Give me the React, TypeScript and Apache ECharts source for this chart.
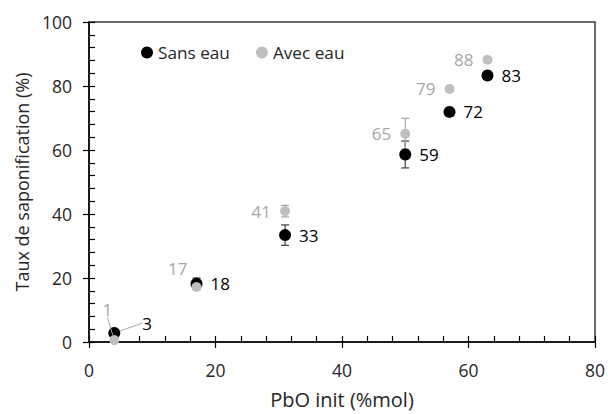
import React, { useEffect, useRef } from "react";
import * as echarts from "echarts";

const xValues = [4, 17, 31, 50, 57, 63];
const sansEau = [2.8, 18.2, 33.4, 58.6, 71.9, 83.3];
const avecEau = [0.6, 17.2, 40.9, 65.1, 79.1, 88.2];
const sansEauErr = [0, 1.8, 3.2, 4.2, 0, 0];
const avecEauErr = [0, 0, 1.8, 4.8, 0, 0];
const seriesNames = ["Sans eau", "Avec eau"];
const xTicks = { min: 0, max: 80, interval: 20 };
const yTicks = { min: 0, max: 100, interval: 20 };

const FONT = "Open Sans";
const TXT = "#262626";
const BLACK = "#000000";
const GREY = "#BFBFBF";
const GREY_TXT = "#A6A6A6";

function errorBarSeries(values: number[], errs: number[], color: string) {
  const data = xValues.map((x, i) => [x, values[i], errs[i]]).filter((d) => d[2] > 0);
  return {
    type: "custom",
    silent: true,
    data,
    z: 1,
    renderItem: (_p: any, api: any) => {
      const x = api.value(0);
      const y = api.value(1);
      const e = api.value(2);
      const top = api.coord([x, y + e]);
      const bot = api.coord([x, y - e]);
      const w = 4;
      const style = { stroke: color, lineWidth: 1.2 };
      return {
        type: "group",
        children: [
          { type: "line", shape: { x1: top[0], y1: top[1], x2: bot[0], y2: bot[1] }, style },
          { type: "line", shape: { x1: top[0] - w, y1: top[1], x2: top[0] + w, y2: top[1] }, style },
          { type: "line", shape: { x1: bot[0] - w, y1: bot[1], x2: bot[0] + w, y2: bot[1] }, style },
        ],
      };
    },
  };
}

function pointData(values: number[]) {
  return xValues.map((x, i) => ({
    value: [x, values[i]],
    labelLine: { show: i === 0 },
  }));
}

export default function App() {
  const ref = useRef<HTMLDivElement>(null);
  useEffect(() => {
    document.body.style.margin = "0";
    const chart = echarts.init(ref.current!, null, { renderer: "svg" });
    const axisCommon = {
      type: "value",
      splitLine: { show: false },
    };
    const tickStyle = { color: BLACK, width: 1.2 };
    chart.setOption({
      animation: false,
      textStyle: { fontFamily: FONT },
      grid: {
        left: 89,
        right: 12,
        top: 22,
        bottom: 69,
        show: true,
        borderColor: "#3a3a3a",
        borderWidth: 1.5,
      },
      legend: {
        data: seriesNames,
        left: 136,
        top: 39,
        icon: "circle",
        itemWidth: 12,
        itemHeight: 12,
        itemGap: 26,
        textStyle: { fontFamily: FONT, fontSize: 17.2, color: TXT },
      },
      xAxis: [
        {
          ...axisCommon,
          ...xTicks,
          name: "PbO init (%mol)",
          nameLocation: "middle",
          nameGap: 47,
          nameTextStyle: { fontFamily: FONT, fontSize: 20, color: TXT },
          axisLine: { show: true, onZero: false, lineStyle: { color: BLACK, width: 1.5 } },
          axisTick: { show: true, inside: false, length: 6, lineStyle: tickStyle },
          axisLabel: { margin: 19, fontFamily: FONT, fontSize: 17.5, color: TXT },
        },
        {
          ...axisCommon,
          min: xTicks.min,
          max: xTicks.max,
          interval: 4,
          position: "bottom",
          axisLine: { show: false },
          axisTick: { show: true, inside: true, length: 6, lineStyle: tickStyle },
          axisLabel: { show: false },
        },
      ],
      yAxis: [
        {
          ...axisCommon,
          ...yTicks,
          name: "Taux de saponification (%)",
          nameLocation: "middle",
          nameGap: 47,
          nameTextStyle: { fontFamily: FONT, fontSize: 18, color: TXT },
          axisLine: { show: true, onZero: false, lineStyle: { color: BLACK, width: 1.5 } },
          axisTick: { show: true, inside: false, length: 6, lineStyle: tickStyle },
          axisLabel: { margin: 17, fontFamily: FONT, fontSize: 17.5, color: TXT },
        },
        {
          ...axisCommon,
          min: yTicks.min,
          max: yTicks.max,
          interval: 4,
          position: "left",
          axisLine: { show: false },
          axisTick: { show: true, inside: true, length: 6, lineStyle: tickStyle },
          axisLabel: { show: false },
        },
      ],
      series: [
        errorBarSeries(sansEau, sansEauErr, "#404040"),
        {
          name: seriesNames[0],
          type: "scatter",
          symbol: "circle",
          symbolSize: 12,
          z: 2,
          itemStyle: { color: BLACK, opacity: 1 },
          data: pointData(sansEau),
          label: {
            show: true,
            position: "right",
            distance: 8,
            fontFamily: FONT,
            fontSize: 17,
            color: BLACK,
            formatter: (p: any) => String(Math.round(p.value[1])),
          },
          labelLayout: (p: any) => (p.dataIndex === 0 ? { dx: 14, dy: -10 } : {}),
          labelLine: { show: false, lineStyle: { color: "#A6A6A6", width: 1 } },
        },
        errorBarSeries(avecEau, avecEauErr, "#A6A6A6"),
        {
          name: seriesNames[1],
          type: "scatter",
          symbol: "circle",
          symbolSize: 10,
          z: 3,
          itemStyle: { color: GREY, opacity: 1 },
          data: pointData(avecEau),
          label: {
            show: true,
            position: "left",
            distance: 9,
            fontFamily: FONT,
            fontSize: 17,
            color: GREY_TXT,
            formatter: (p: any) => String(Math.round(p.value[1])),
          },
          labelLayout: (p: any) =>
            p.dataIndex === 0 ? { dx: 12, dy: -31 } : p.dataIndex === 1 ? { dx: 5, dy: -18 } : {},
          labelLine: { show: false, lineStyle: { color: "#A6A6A6", width: 1 } },
        },
      ],
    });
    return () => chart.dispose();
  }, []);
  return <div ref={ref} style={{ width: 608, height: 414 }} />;
}
